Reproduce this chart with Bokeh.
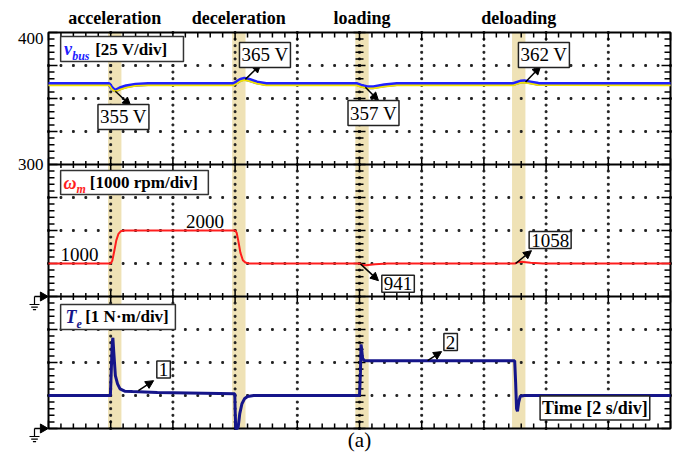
import numpy as np
from bokeh.plotting import figure
from bokeh.models import Label, Arrow, NormalHead, Range1d, ColumnDataSource
from bokeh.core.properties import value
from bokeh.embed import file_html
from bokeh.resources import INLINE

# ---------------- data ----------------
events = ["acceleration", "deceleration", "loading", "deloading"]
event_t = [2.13, 6.12, 10.08, 15.12]      # s, centre of the shaded transient window
event_w = 0.43                            # s

# DC-bus voltage (V)
vbus_t = [0, 1.95, 2.02, 2.1, 2.18, 2.3, 2.5, 2.8, 3.2, 5.95, 6.05, 6.18, 6.3, 6.45, 6.7, 7.0,
          9.9, 10.05, 10.25, 10.45, 10.8, 11.2, 14.95, 15.05, 15.18, 15.3, 15.5, 15.75, 20]
vbus_yellow = [360, 360, 357.5, 355.7, 355.5, 356.8, 358.3, 359.5, 360, 360, 361.2, 363.2, 364, 363.2, 361.2, 360,
               360, 358.8, 357.6, 357.6, 359, 360, 360, 360.8, 361.8, 362, 361.2, 360.2, 360]
vbus_blue = [361, 361, 358.5, 356.5, 356.3, 357.8, 359.3, 360.5, 361, 361, 362.3, 364.3, 365, 364.2, 362.2, 361,
             361, 359.8, 358.6, 358.6, 360, 361, 361, 361.8, 362.8, 363, 362.2, 361.2, 361]

# rotor speed (rpm)
wm_t = [0, 2.0, 2.05, 2.12, 2.18, 2.25, 2.32, 2.45, 6.0, 6.05, 6.1, 6.17, 6.25, 6.33, 6.45,
        10.0, 10.08, 10.2, 10.5, 10.9, 15.0, 15.08, 15.2, 15.5, 15.9, 20]
wm_rpm = [1000, 1000, 1080, 1400, 1700, 1900, 1975, 2000, 2000, 1930, 1700, 1330, 1100, 1030, 1000,
          1000, 965, 945, 975, 1000, 1000, 1035, 1055, 1020, 1000, 1000]

# electromagnetic torque (N·m), clipped at the screen bottom like the scope
te_t = [0, 1.99, 2.02, 2.05, 2.07, 2.1, 2.15, 2.22, 2.3, 2.45, 2.7, 3.5, 5.99, 6.0, 6.02, 6.06, 6.1, 6.15,
        6.22, 6.3, 6.4, 6.6, 10.0, 10.03, 10.05, 10.07, 10.1, 10.15, 10.25, 14.99, 15.02, 15.05, 15.08,
        15.12, 15.17, 15.3, 20]
te_nm = [1.0, 1.0, 1.8, 2.6, 2.75, 2.3, 1.6, 1.35, 1.2, 1.13, 1.12, 1.09, 1.05, 0.6, 0.0, 0.0, 0.05, 0.45,
         0.75, 0.9, 0.97, 1.0, 1.0, 1.7, 2.55, 2.4, 2.12, 2.06, 2.05, 2.05, 1.4, 0.6, 0.52, 0.8,
         0.98, 1.0, 1.0]

ytick_vals = [8, 12]
ytick_labels = ["300", "400"]

# scope scaling (divisions)
def v_div(v):
    return 8 + (np.asarray(v, float) - 300) / 25.0      # 25 V/div, 300 V at div 8

def w_div(w):
    return 4 + np.asarray(w, float) / 1000.0           # 1000 rpm/div, 0 at div 4

def t_div(t):
    return np.asarray(t, float)                        # 1 N·m/div, 0 at div 0

SERIF = value("Liberation Serif")
BAND = "#efe2b6"
W, H = 675, 455
PXS = 31.1          # pixels per second
PXD = 33.0          # pixels per division
L0, T0 = 48, 32     # screen position of the graticule's top-left corner
px_x = 1.0 / PXS
px_y = 1.0 / PXD

p = figure(width=W, height=H,
           x_range=Range1d(-L0 / PXS, (W - L0) / PXS),
           y_range=Range1d(-(H - T0 - 12 * PXD) / PXD, 12 + T0 / PXD),
           output_backend="svg", toolbar_location=None,
           x_axis_location=None, y_axis_location=None,
           min_border=0, min_border_left=0, min_border_right=0, min_border_top=0, min_border_bottom=0)
p.grid.visible = False
p.outline_line_color = None
p.background_fill_color = "white"
p.border_fill_color = "white"

# shaded transient windows
p.vbar(x=event_t, width=event_w, bottom=0, top=12, fill_color=BAND, line_color=None)

# dotted graticule
gx = [2, 4, 6, 8, 10, 12, 14, 16, 18]
gy = [1, 2, 3, 5, 6, 7, 9, 10, 11]
hx = np.arange(0, 20.001, 0.4)
vy = np.arange(0, 12.001, 0.2)
dx = np.concatenate([hx for _ in gy]); dy = np.repeat(gy, len(hx))
ex = np.repeat(gx, len(vy)); ey = np.concatenate([vy for _ in gx])
p.scatter(np.concatenate([dx, ex]), np.concatenate([dy, ey]), marker="square", size=1.8,
          color="#222222")

# solid channel separators
p.segment(x0=[0, 0], y0=[4, 8], x1=[20, 20], y1=[4, 8], line_color="black", line_width=2)

# tick marks
x0s, y0s, x1s, y1s = [], [], [], []
for x in hx:
    major = abs(x / 2 - round(x / 2)) < 1e-6
    L = (8 if major else 5) * px_y
    x0s += [x, x]; y0s += [12, 0]; x1s += [x, x]; y1s += [12 - L, L]
    l = (6 if major else 3.5) * px_y
    for b in (4, 8):
        x0s.append(x); y0s.append(b - l); x1s.append(x); y1s.append(b + l)
for y in vy:
    major = abs(y - round(y)) < 1e-6
    L = (9 if major else 6) * px_x
    x0s += [0, 20]; y0s += [y, y]; x1s += [L, 20 - L]; y1s += [y, y]
    l = (6 if major else 4) * px_x
    x0s.append(10 - l); y0s.append(y); x1s.append(10 + l); y1s.append(y)
p.segment(x0=x0s, y0=y0s, x1=x1s, y1=y1s, line_color="black", line_width=1.5)

# screen border
p.quad(left=[0], right=[20], bottom=[0], top=[12], fill_color=None, line_color="black", line_width=2)

# traces
p.line(vbus_t, v_div(vbus_blue), color="#2020ff", line_width=4)
p.line(vbus_t, v_div(vbus_yellow), color="#f2e400", line_width=1.8)
p.line(wm_t, w_div(wm_rpm), color="#ff1e1e", line_width=2)
p.line(te_t, t_div(te_nm), color="#15158a", line_width=3)

# y tick labels (left of the screen)
tick_src = ColumnDataSource(dict(x=[-5 * px_x] * len(ytick_vals), y=ytick_vals, text=ytick_labels,
                                 yo=[0 if v < 12 else 6 for v in ytick_vals]))
p.text(x="x", y="y", text="text", y_offset="yo", source=tick_src, text_font=SERIF,
       text_font_size="17px", text_align="right", text_baseline="middle", text_color="black")

# event titles above the screen
p.text(x=event_t, y=[12 + 15 * px_y] * len(events), text=events, text_font=SERIF,
       text_font_style="bold", text_font_size="18px", text_align="center", text_baseline="middle",
       text_color="black")

# channel captions (box + mixed-style text)
cap_boxes = dict(left=[0.39, 0.39, 0.39], right=[4.34, 5.14, 4.08],
                 top=[11.88, 7.82, 3.76], bottom=[11.12, 7.09, 3.0])
p.quad(**cap_boxes, fill_color="white", line_color="#333333", line_width=1.5)
cap_y = [11.5, 7.45, 3.38]
p.text(x=[0.5, 0.48, 0.55], y=cap_y, text=["v", "ω", "T"], text_font=SERIF,
       text_font_style="bold italic", text_font_size="18px",
       text_color=["#2020ff", "#ff1e1e", "#15158a"], text_baseline="middle")
p.text(x=[0.76, 0.9, 0.9], y=[c - 0.2 for c in cap_y], text=["bus", "m", "e"], text_font=SERIF,
       text_font_style="bold italic", text_font_size="12px",
       text_color=["#2020ff", "#ff1e1e", "#15158a"], text_baseline="middle")
p.text(x=[1.5, 1.33, 1.18], y=cap_y, text=["[25 V/div]", "[1000 rpm/div]", "[1 N·m/div]"],
       text_font=SERIF, text_font_style="bold", text_font_size="17px", text_color="black",
       text_baseline="middle")

# boxed value call-outs with arrows: (text, box centre, arrow tail on trace, arrow head)
callouts = [
    ("355 V", (2.41, 9.44), (2.15, float(v_div(355.5))), (2.64, 9.79)),
    ("365 V", (6.96, 11.32), (6.33, float(v_div(364.5))), (6.82, 11.03)),
    ("357 V", (10.45, 9.56), (10.19, float(v_div(358.5))), (10.61, 9.94)),
    ("362 V", (15.93, 11.32), (15.34, float(v_div(362.5))), (15.82, 10.97)),
    ("941", (11.24, 4.39), (10.03, float(w_div(990))), (10.61, 4.48)),
    ("1058", (16.13, 5.71), (15.02, float(w_div(1000))), (15.53, 5.39)),
    ("1", (3.70, 1.79), (2.89, 1.15), (3.38, 1.45)),
    ("2", (12.93, 2.62), (12.19, 2.06), (12.64, 2.33)),
]
for txt, (bx, by), (tx, ty), (hx_, hy) in callouts:
    p.add_layout(Arrow(x_start=tx, y_start=ty, x_end=hx_, y_end=hy, line_width=1.5,
                       end=NormalHead(size=8, fill_color="black", line_color="black")))
    p.add_layout(Label(x=bx, y=by, text=txt, text_align="center", text_baseline="middle",
                       text_font="Liberation Serif", text_font_size="19px", text_color="black",
                       background_fill_color="white", border_line_color="#222222",
                       border_line_width=1.5, padding=2))

p.text(x=[5.03, 1.0], y=[6.27, 5.27], text=["2000", "1000"], text_font=SERIF,
       text_font_size="19px", text_align="center", text_baseline="middle", text_color="black")

p.add_layout(Label(x=17.57, y=0.62, text="Time [2 s/div]", text_align="center",
                   text_baseline="middle", text_font="Liberation Serif", text_font_style="bold",
                   text_font_size="18px", text_color="black", background_fill_color="white",
                   border_line_color="#222222", border_line_width=1.5, padding=2))

# ground reference markers (left of the screen)
grounds = [4, 0]
gxm = -14 * px_x
p.segment(x0=[gxm] * 2, y0=grounds, x1=[-8 * px_x] * 2, y1=grounds, line_color="black", line_width=1.5)
p.scatter(x=[-5.5 * px_x] * 2, y=grounds, marker="triangle", size=9, angle=-np.pi / 2,
          color="black")
sx0, sy0, sx1, sy1 = [], [], [], []
for g in grounds:
    sx0.append(gxm); sy0.append(g); sx1.append(gxm); sy1.append(g - 8 * px_y)
    for k, half in enumerate([5, 3.3, 1.6]):
        yy = g - (8 + 2.6 * k) * px_y
        sx0.append(gxm - half * px_x); sy0.append(yy); sx1.append(gxm + half * px_x); sy1.append(yy)
p.segment(x0=sx0, y0=sy0, x1=sx1, y1=sy1, line_color="black", line_width=1.2)

p.text(x=[10.0], y=[-11.5 * px_y], text=["(a)"], text_font=SERIF, text_font_size="21px",
       text_align="center", text_baseline="middle", text_color="black")

open("out.html", "w").write(file_html(p, INLINE))
